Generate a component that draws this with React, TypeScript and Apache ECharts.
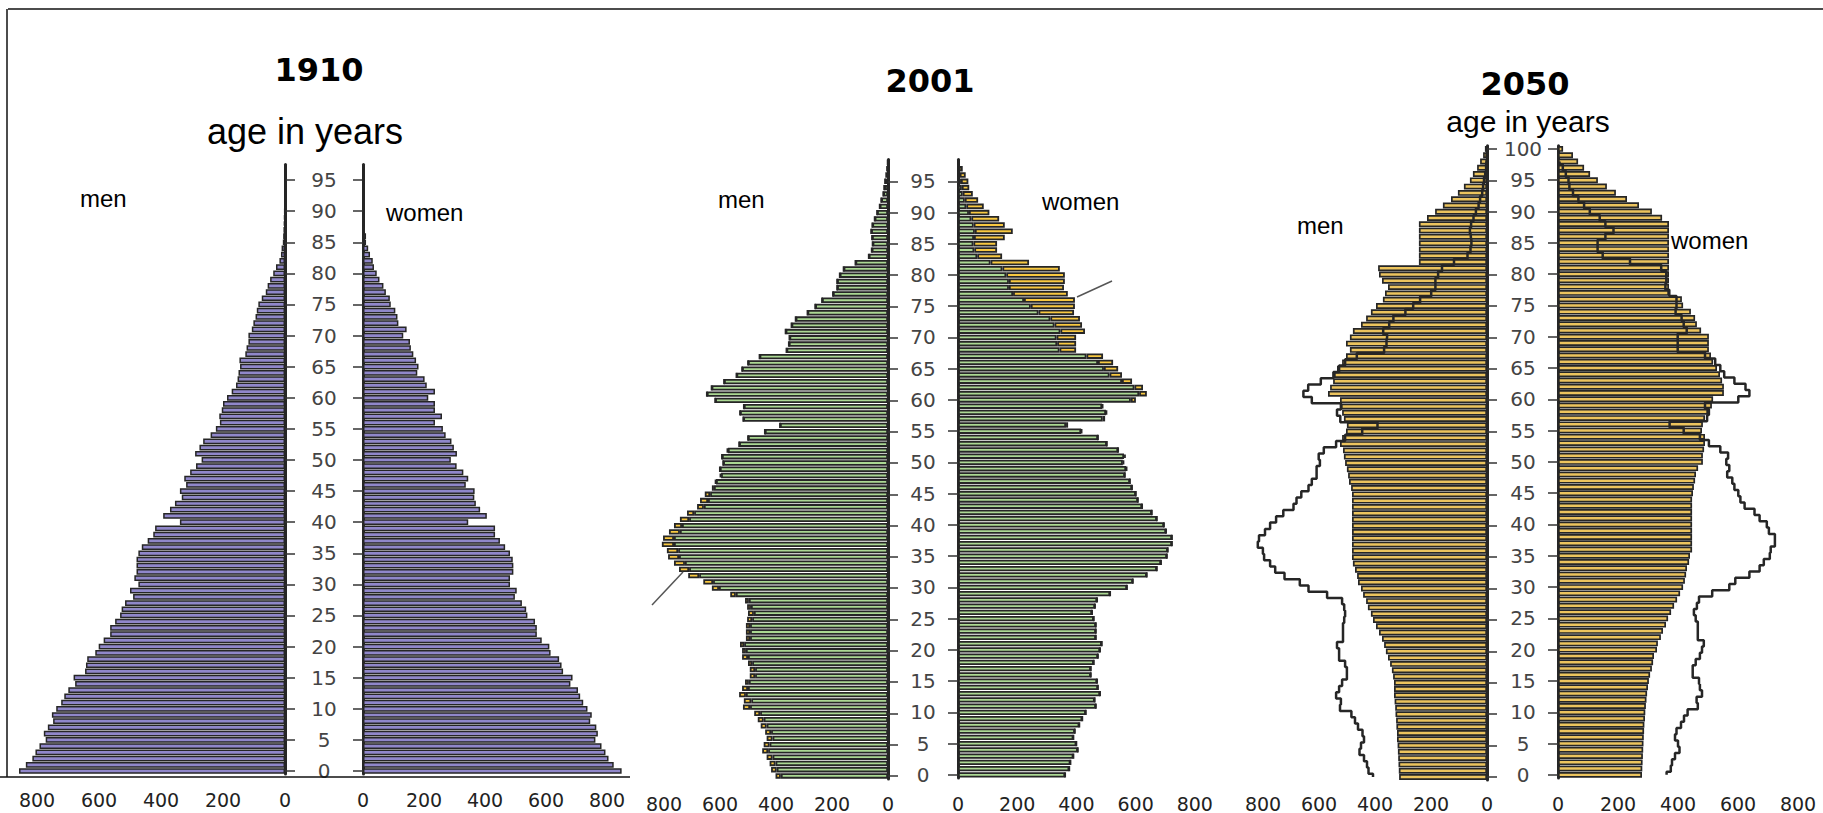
import React, { useEffect, useRef } from "react";
import * as echarts from "echarts";

// ---------- categories (age in years) ----------
const ages1910 = Array.from({ length: 98 }, (_, i) => String(i));
const ages2001 = Array.from({ length: 99 }, (_, i) => String(i));
const ages2050 = Array.from({ length: 101 }, (_, i) => String(i));

// ---------- 1910 (index = age) ----------
const men1910 = [
  858, 836, 815, 805, 792, 772, 778, 765, 748, 752, 738, 722, 712, 699, 677, 682, 645, 642, 638, 612,
  601, 585, 564, 564, 548, 532, 527, 516, 490, 500, 473, 486, 479, 479, 479, 473, 462, 443, 425, 419,
  339, 393, 371, 355, 333, 339, 319, 325, 306, 287, 269, 290, 276, 264, 240, 223, 210, 212, 204, 200,
  187, 172, 158, 153, 150, 145, 147, 128, 124, 118, 118, 107, 102, 95, 91, 86, 75, 62, 56, 48,
  38, 29, 18, 13, 11, 7, 6, 5, 4, 3, 2, 1, 0, 0, 0, 0, 0, 0,
];
const women1910 = [
  848, 822, 805, 795, 782, 762, 770, 765, 745, 750, 736, 722, 712, 705, 680, 687, 656, 651, 643, 615,
  611, 586, 570, 570, 564, 539, 535, 521, 498, 504, 482, 482, 493, 493, 491, 482, 466, 449, 433, 433,
  345, 406, 384, 370, 365, 366, 337, 345, 329, 307, 288, 308, 298, 290, 271, 262, 236, 259, 236, 236,
  214, 236, 209, 202, 178, 182, 174, 165, 157, 154, 132, 143, 116, 113, 106, 91, 88, 75, 67, 54,
  45, 36, 32, 23, 17, 10, 10, 6, 4, 2, 2, 0, 0, 0, 0, 0, 0, 0,
];

// ---------- 2001 (index = age) ----------
const men2001 = [
  380, 395, 400, 410, 425, 420, 410, 415, 430, 440, 452, 490, 487, 503, 493, 483, 467, 467, 473, 493,
  493, 500, 480, 480, 480, 476, 473, 476, 483, 533, 595, 624, 675, 706, 723, 743, 747, 764, 760, 740,
  723, 703, 679, 645, 635, 619, 595, 584, 568, 568, 557, 561, 544, 503, 473, 416, 365, 489, 500, 487,
  584, 612, 596, 554, 512, 493, 473, 434, 343, 335, 333, 346, 326, 312, 272, 246, 223, 186, 172, 172,
  163, 150, 110, 65, 55, 52, 54, 57, 53, 45, 37, 28, 23, 16, 13, 10, 6, 3, 1,
];
const women2001 = [
  362, 376, 380, 390, 405, 400, 390, 395, 410, 420, 432, 466, 462, 480, 473, 470, 449, 449, 459, 473,
  480, 486, 466, 466, 466, 459, 453, 463, 470, 514, 571, 591, 638, 672, 686, 706, 709, 723, 723, 703,
  696, 672, 655, 622, 608, 601, 588, 581, 564, 571, 561, 567, 541, 503, 473, 419, 372, 497, 503, 490,
  601, 638, 625, 588, 554, 541, 524, 490, 399, 399, 399, 429, 419, 412, 392, 395, 395, 371, 358, 361,
  361, 344, 240, 149, 132, 132, 158, 185, 158, 139, 106, 87, 68, 50, 38, 35, 26, 16, 5,
];

// ---------- 2050 (index = age) ----------
const men2050 = [
  293, 294, 295, 296, 297, 298, 300, 300, 302, 303, 305, 306, 308, 310, 310, 310, 313, 317, 323, 330,
  337, 343, 350, 360, 370, 380, 387, 397, 403, 413, 420, 430, 433, 440, 447, 450, 450, 450, 450, 450,
  450, 450, 450, 450, 450, 450, 453, 460, 463, 467, 473, 477, 480, 490, 483, 470, 467, 477, 483, 487,
  490, 530, 523, 513, 510, 500, 483, 470, 457, 470, 457, 447, 420, 403, 387, 370, 347, 340, 330, 350,
  360, 363, 227, 227, 227, 227, 227, 227, 227, 200, 173, 147, 120, 97, 77, 57, 47, 33, 23, 13,
  7,
];
const women2050 = [
  280, 281, 282, 283, 284, 285, 286, 287, 288, 290, 291, 293, 295, 297, 300, 303, 307, 313, 317, 320,
  330, 333, 343, 350, 360, 367, 377, 387, 397, 407, 417, 423, 427, 430, 437, 440, 447, 447, 447, 447,
  447, 447, 447, 447, 447, 450, 453, 457, 460, 467, 483, 483, 487, 490, 490, 480, 483, 490, 500, 513,
  517, 553, 553, 547, 540, 530, 517, 510, 503, 503, 503, 477, 463, 457, 443, 417, 413, 370, 370, 370,
  370, 370, 370, 370, 370, 370, 370, 370, 370, 347, 313, 270, 230, 193, 163, 133, 107, 87, 67, 50,
  17,
];

// ---------- axis ticks ----------
const xTicks = { min: 0, max: 800, interval: 200 };

const DARK = "#262626";
const PURPLE = "#9087ca";
const GREEN = "#abd893";
const YELLOW = "#f8c941";
const GOLD = "#ecc45e";

function xAx(i: number, inverse: boolean, showLabel = true) {
  return {
    type: "value",
    gridIndex: i,
    min: xTicks.min,
    max: xTicks.max,
    interval: xTicks.interval,
    inverse,
    axisLine: { show: false },
    axisTick: { show: false },
    splitLine: { show: false },
    axisLabel: { show: showLabel, fontSize: 19, color: "#222", margin: 16, fontFamily: "DejaVu Sans" },
  };
}

function yAx(i: number, cats: string[], side: string, showLabels: boolean, margin: number) {
  return {
    type: "category",
    gridIndex: i,
    data: cats,
    position: side,
    axisLine: { show: true, lineStyle: { color: DARK, width: 3 } },
    axisTick: {
      show: true,
      alignWithLabel: true,
      interval: (idx: number) => idx % 5 === 0,
      length: 10,
      lineStyle: { color: "#333", width: 1.5 },
    },
    axisLabel: {
      show: showLabels,
      interval: (idx: number) => idx % 5 === 0,
      margin,
      align: "center",
      fontSize: 20,
      color: "#444",
      fontFamily: "DejaVu Sans",
    },
    splitLine: { show: false },
  };
}

function barS(name: string, i: number, data: number[], color: string, bw: number, gap: string, stack?: string) {
  return {
    name,
    type: "bar",
    xAxisIndex: i,
    yAxisIndex: i,
    data,
    stack,
    clip: false,
    barCategoryGap: gap,
    itemStyle: { color, borderColor: DARK, borderWidth: bw },
    silent: true,
  };
}

function txt(text: string, x: number, y: number, font: string, align = "center") {
  return {
    type: "text",
    x,
    y,
    style: {
      text,
      font,
      fill: "#000",
      textAlign: align,
      textVerticalAlign: "middle",
      align,
      verticalAlign: "middle",
    },
    z: 100,
  };
}

function ln(x1: number, y1: number, x2: number, y2: number, stroke: string, w: number) {
  return { type: "line", shape: { x1, y1, x2, y2 }, style: { stroke, lineWidth: w }, z: 100 };
}

export default function App() {
  const ref = useRef<HTMLDivElement>(null);
  useEffect(() => {
    if (!ref.current) return;
    const chart = echarts.init(ref.current, undefined, { renderer: "svg" });

    const m01g = men2001.map((m, i) => Math.min(m, women2001[i]));
    const m01y = men2001.map((m, i) => Math.max(0, m - women2001[i]));
    const w01g = women2001.map((w, i) => Math.min(w, men2001[i]));
    const w01y = women2001.map((w, i) => Math.max(0, w - men2001[i]));

    const outline = (name: string, i: number, data: number[]) => ({
      name,
      type: "line",
      xAxisIndex: i,
      yAxisIndex: i,
      data,
      step: "middle",
      showSymbol: false,
      symbol: "none",
      lineStyle: { color: DARK, width: 2.5 },
      z: 5,
      silent: true,
    });

    const option = {
      animation: false,
      backgroundColor: "#fff",
      textStyle: { fontFamily: "DejaVu Sans" },
      grid: [
        { left: 37, top: 164.5, width: 248, height: 609.6 },
        { left: 363, top: 164.5, width: 244, height: 609.6 },
        { left: 651.2, top: 159.4, width: 236.8, height: 619.7 },
        { left: 958, top: 159.4, width: 236.8, height: 619.7 },
        { left: 1247, top: 145.8, width: 240, height: 634.3 },
        { left: 1558, top: 145.8, width: 240, height: 634.3 },
        // label-only scales of the men's sides (printed tick spacing of the original)
        { left: 664, top: 159.4, width: 224, height: 619.7 },
        { left: 1263, top: 145.8, width: 224, height: 634.3 },
      ],
      xAxis: [
        xAx(0, true),
        xAx(1, false),
        xAx(2, true, false),
        xAx(3, false),
        xAx(4, true, false),
        xAx(5, false),
        xAx(6, true),
        xAx(7, true),
      ],
      yAxis: [
        yAx(0, ages1910, "right", false, 0),
        yAx(1, ages1910, "left", true, 39),
        yAx(2, ages2001, "right", false, 0),
        yAx(3, ages2001, "left", true, 35),
        yAx(4, ages2050, "right", false, 0),
        yAx(5, ages2050, "left", true, 35),
        { type: "value", gridIndex: 6, show: false },
        { type: "value", gridIndex: 7, show: false },
      ],
      series: [
        barS("men 1910", 0, men1910, PURPLE, 1.5, "8%"),
        barS("women 1910", 1, women1910, PURPLE, 1.5, "8%"),
        barS("men 2001", 2, m01g, GREEN, 1.8, "14%", "m"),
        barS("men 2001 surplus", 2, m01y, YELLOW, 1.8, "14%", "m"),
        barS("women 2001", 3, w01g, GREEN, 1.8, "14%", "w"),
        barS("women 2001 surplus", 3, w01y, YELLOW, 1.8, "14%", "w"),
        barS("men 2050", 4, men2050, GOLD, 1.7, "6%"),
        outline("men 2001 outline", 4, men2001),
        barS("women 2050", 5, women2050, GOLD, 1.7, "6%"),
        outline("women 2001 outline", 5, women2001),
      ],
      graphic: [
        ln(8, 9, 1823, 9, "#111", 1.5),
        ln(7, 9, 7, 777, "#111", 1.5),
        ln(0, 777, 630, 777, "#111", 1.5),
        txt("1910", 319, 70, 'bold 32px "DejaVu Sans"'),
        txt("age in years", 305, 131, '36px "Liberation Sans"'),
        txt("2001", 930, 81, 'bold 32px "DejaVu Sans"'),
        txt("2050", 1525, 84, 'bold 32px "DejaVu Sans"'),
        txt("age in years", 1528, 121, '30px "Liberation Sans"'),
        txt("men", 80, 198, '24px "Liberation Sans"', "left"),
        txt("women", 386, 212, '24px "Liberation Sans"', "left"),
        txt("men", 718, 199, '24px "Liberation Sans"', "left"),
        txt("women", 1042, 201, '24px "Liberation Sans"', "left"),
        txt("men", 1297, 225, '24px "Liberation Sans"', "left"),
        txt("women", 1671, 240, '24px "Liberation Sans"', "left"),
        ln(652, 605, 683, 572, "#555", 1.5),
        ln(1077, 297, 1112, 281, "#555", 1.5),
      ],
    };
    chart.setOption(option as any);
    return () => chart.dispose();
  }, []);
  return (
    <div
      ref={ref}
      style={{ position: "fixed", left: 0, top: 0, width: "1823px", height: "813px", background: "#fff" }}
    />
  );
}
